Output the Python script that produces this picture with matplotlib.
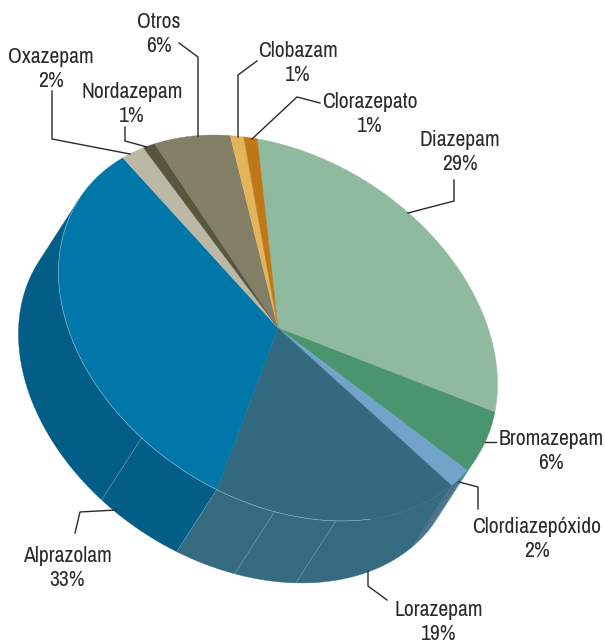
import numpy as np
from matplotlib import pyplot as plt

names = ['Diazepam', 'Bromazepam', 'Clordiazepóxido', 'Lorazepam', 'Alprazolam',
         'Oxazepam', 'Nordazepam', 'Otros', 'Clobazam', 'Clorazepato']
values = [29, 6, 2, 19, 33, 2, 1, 6, 1, 1]
colors = ['#90BA9F', '#4A9470', '#70A4C9', '#336A80', '#0077A8',
          '#BBB9A5', '#57563E', '#837F66', '#E3B55A', '#BE7818']
side_colors = ['#90BA9F', '#4A9470', '#4F708F', '#356B81', '#025E86',
               '#BBB9A5', '#57563E', '#837F66', '#E3B55A', '#BE7818']

# pie geometry in pixels, y pointing down
cx, cy = 278, 328
a, b = 237, 171
tilt = np.radians(33)
drop = (-40, 62)
start = -120.5
seams = [49.6, 65.8, 103.3]

# label centre x, y of the name line, leader line
label_pos = {
    'Diazepam': (460, 140, [(454, 180), (454, 201), (408, 213)]),
    'Bromazepam': (551, 439, [(496, 442), (485, 442)]),
    'Clordiazepóxido': (537, 527, [(478, 509), (478, 487), (459, 482)]),
    'Lorazepam': (439, 610, [(387, 600), (368, 586), (368, 571)]),
    'Alprazolam': (67, 556, [(75, 533), (80, 512), (116, 510)]),
    'Oxazepam': (51, 57, [(52, 91), (52, 139), (130, 154)]),
    'Nordazepam': (132, 92, [(125, 127), (125, 141), (147, 147)]),
    'Otros': (159, 22, [(179, 43), (198, 57), (198, 136)]),
    'Clobazam': (298, 51, [(257, 61), (238, 75), (238, 137)]),
    'Clorazepato': (370, 102, [(320, 103), (297, 97), (252, 139)]),
}

plt.rcParams['font.family'] = ['Archivo Narrow', 'Roboto Condensed', 'Liberation Sans', 'DejaVu Sans']


def arc(t0, t1, dx=0, dy=0):
    t = np.radians(np.linspace(t0, t1, max(int(abs(t1 - t0)) * 2, 2) + 1))
    u = a * np.cos(t)
    v = b * np.sin(t)
    x = cx + u * np.cos(tilt) - v * np.sin(tilt) + dx
    y = cy + u * np.sin(tilt) + v * np.cos(tilt) + dy
    return x, y


def wall(ax, t0, t1, color):
    x1, y1 = arc(t0, t1)
    x2, y2 = arc(t1, t0, drop[0], drop[1])
    ax.fill(np.r_[x1, x2], np.r_[y1, y2], facecolor=color, edgecolor=color, lw=0.3)


fig = plt.figure(figsize=(6.05, 6.44), dpi=100)
ax = fig.add_axes([0, 0, 1, 1])
ax.set_xlim(0, 605)
ax.set_ylim(644, 0)
ax.axis('off')

edges = start + np.cumsum([0] + values) * 3.6

# side wall, only the half that faces us
for i in range(len(values)):
    t0, t1 = max(edges[i], 0), min(edges[i + 1], 180)
    if t1 > t0:
        wall(ax, t0, t1, side_colors[i])

# faint lines between the wall facets
for s in seams + [edges[4]]:
    x, y = arc(s, s + 0.01)
    x2, y2 = arc(s, s + 0.01, drop[0], drop[1])
    ax.plot([x[0], x2[0]], [y[0], y2[0]], color='#7FA3B5', lw=0.4)

# top of the pie
for i in range(len(values)):
    x, y = arc(edges[i], edges[i + 1])
    ax.fill(np.r_[cx, x], np.r_[cy, y], facecolor=colors[i], edgecolor=colors[i], lw=0.3)

# light rim where the top meets the wall
x, y = arc(40, 180)
ax.plot(x, y, color='#9FC3D3', lw=0.4)

for i, name in enumerate(names):
    tx, ty, leader = label_pos[name]
    ax.text(tx, ty, name, ha='center', va='center', fontsize=15.6, color='#2B2A29')
    ax.text(tx, ty + 24, '%d%%' % values[i], ha='center', va='center', fontsize=15.6, color='#2B2A29')
    lx, ly = zip(*leader)
    ax.plot(lx, ly, color='#2B2A29', lw=1.0, solid_joinstyle='miter')

plt.savefig('out.png', dpi=100)
plt.close()
